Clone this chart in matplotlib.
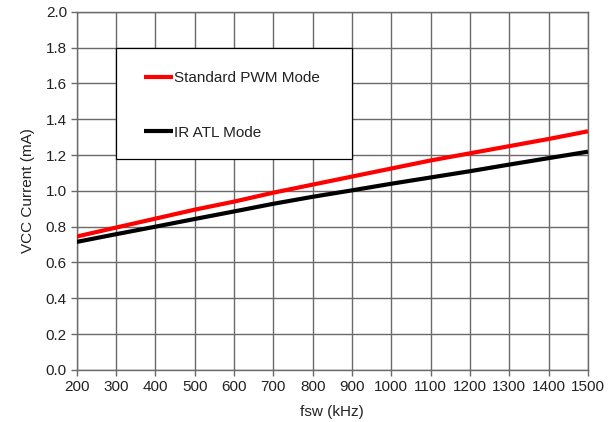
import matplotlib
matplotlib.use("Agg")
import matplotlib.pyplot as plt
from matplotlib.patches import Rectangle

fsw = [200, 300, 400, 500, 600, 700, 800, 900, 1000, 1100, 1200, 1300, 1400, 1500]
pwm = [0.745, 0.795, 0.845, 0.895, 0.940, 0.990, 1.035, 1.080, 1.125, 1.170, 1.210, 1.250, 1.290, 1.333]
atl = [0.715, 0.758, 0.800, 0.843, 0.885, 0.928, 0.967, 1.003, 1.040, 1.075, 1.110, 1.147, 1.183, 1.219]
xticks = list(range(200, 1501, 100))
yticks = [0.0, 0.2, 0.4, 0.6, 0.8, 1.0, 1.2, 1.4, 1.6, 1.8, 2.0]

plt.rcParams['font.family'] = ['Liberation Sans', 'DejaVu Sans']

fig = plt.figure(figsize=(6.15, 4.22), dpi=100)
ax = fig.add_axes([0.1247, 0.1235, 0.8313, 0.8483])

ax.plot(fsw, pwm, color='#ff0000', lw=3, label='Standard PWM Mode', zorder=4, solid_capstyle='butt')
ax.plot(fsw, atl, color='#000000', lw=3, label='IR ATL Mode', zorder=4, solid_capstyle='butt')

ax.set_xlim(200, 1500)
ax.set_ylim(0, 2.0)
ax.set_xticks(xticks)
ax.set_yticks(yticks)
ax.set_yticklabels([f"{v:.1f}" for v in yticks])
ax.grid(True, color='#6a6a6a', lw=1.0, zorder=1)
for s in ax.spines.values():
    s.set_color('#6a6a6a')
    s.set_linewidth(1.0)
ax.tick_params(direction='out', length=4, width=1.0, color='#6a6a6a',
               labelsize=11, labelcolor='#222222', pad=3)
ax.set_xlabel('fsw (kHz)', fontsize=11, color='#222222', labelpad=8)
ax.set_ylabel('VCC Current (mA)', fontsize=11, color='#222222', labelpad=8)

box = Rectangle((0.0769, 0.588), 0.4616, 0.310, transform=ax.transAxes,
                facecolor='white', edgecolor='black', lw=0.9, zorder=3)
ax.add_patch(box)
leg = ax.legend(loc='upper left', bbox_to_anchor=(0.1316, 0.8343), frameon=False,
                fontsize=11, handlelength=1.9, handletextpad=0.05, borderpad=0,
                borderaxespad=0, labelspacing=2.65)
leg.set_zorder(5)
for t in leg.get_texts():
    t.set_color('#222222')

fig.savefig('out.png', dpi=100)
